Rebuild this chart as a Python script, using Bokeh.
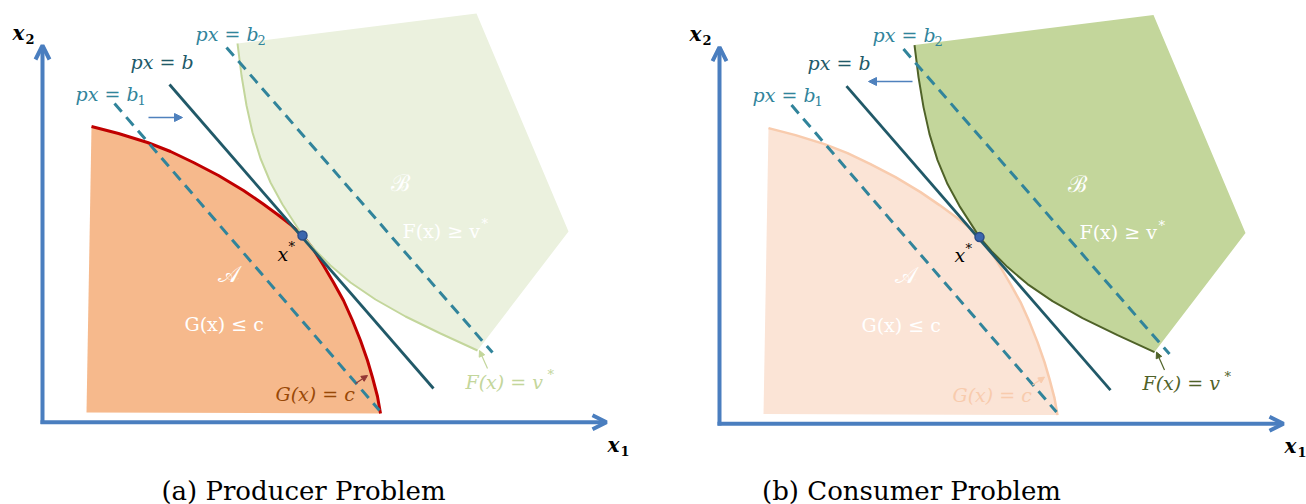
from bokeh.plotting import figure
from bokeh.models import Range1d, Arrow, OpenHead, NormalHead, ColumnDataSource
from bokeh.core.properties import value
from bokeh.embed import file_html
from bokeh.resources import INLINE

# ---- diagram data (coordinates (a) of the picture, image pixels, y down) ----
# Region A (G(x) <= c): left bottom corner, then the boundary curve G(x) = c
region_a_x = [86, 91, 118, 147, 170, 193, 218, 243, 262, 277, 290, 302, 313, 323, 333, 343, 352, 360, 367, 372, 377, 380]
region_a_y = [412, 126, 133, 142, 151, 162, 175, 190, 203, 214, 224, 235, 249, 265, 282, 300, 320, 340, 360, 377, 396, 413]
# Region B (F(x) >= v*): boundary curve F(x) = v*, then the two outer corners
region_b_x = [237, 241, 246, 252, 260, 270, 282, 293, 302, 314, 330, 350, 375, 405, 440, 477, 568, 476]
region_b_y = [43, 75, 105, 132, 158, 182, 204, 221, 235, 249, 265, 282, 299, 316, 333, 350, 231, 13]
curve_b_count = 16

# budget lines px = b, px = b1, px = b2
budget_x = [169, 433]
budget_y = [84, 388]
budget1_x = [114, 379]
budget1_y = [103, 410]
budget2_x = [226, 492]
budget2_y = [47, 352]

# optimum x*
xstar_x = [302]
xstar_y = [235]

# coordinate axes (start -> end)
axis_x0 = [42, 40]
axis_y0 = [423.5, 421.7]
axis_x1 = [42, 606]
axis_y1 = [45, 421.7]

# small pointer arrows to the boundary labels
g_arrow = [355, 383, 367, 375]
f_arrow = [487, 368, 479, 350]
# shift arrows (panel a: to the right, panel b: to the left)
shift_a = [148, 117, 182, 117]
shift_b = [235, 79.4, 191, 79.4]

# texts
line_label_x = [195, 130, 75]
line_label_y = [33, 61, 93]
line_sub_text = ["2", "", "1"]
line_sub_x = [257, 0, 137]
line_sub_y = [39, 0, 99]

captions = ["(a) Producer Problem", "(b) Consumer Problem"]
caption_x = [303, 234]
caption_y = [490, 488.4]

PANEL_B_DX = 677
PANEL_B_DY = 1.6

W, H = 1306, 504
MATH = value("DejaVu Serif")

AXIS_BLUE = "#4A7EBF"
TEAL = "#31849B"
DARK_TEAL = "#215968"

p = figure(width=W, height=H, x_range=Range1d(0, W), y_range=Range1d(H, 0),
           output_backend="svg", toolbar_location=None, min_border=0,
           x_axis_location=None, y_axis_location=None)
p.grid.visible = False
p.outline_line_color = None
p.background_fill_color = "white"
p.border_fill_color = "white"


def sx(vals, dx):
    return [v + dx for v in vals]


def panel(dx, dy, style, shift, caption, cap_x, cap_y):
    X = lambda vals: sx(vals, dx)
    Y = lambda vals: sx(vals, dy)

    # regions
    p.patch(X(region_b_x), Y(region_b_y), fill_color=style["b_fill"], line_color=None)
    p.patch(X(region_a_x), Y(region_a_y), fill_color=style["a_fill"], line_color=None)
    p.line(X(region_a_x[1:]), Y(region_a_y[1:]), line_color=style["a_edge"], line_width=style["a_w"])
    p.line(X(region_b_x[:curve_b_count]), Y(region_b_y[:curve_b_count]), line_color=style["b_edge"], line_width=2)

    # budget lines
    p.line(X(budget1_x), Y(budget1_y), line_color=TEAL, line_width=3, line_dash="11 7")
    p.line(X(budget2_x), Y(budget2_y), line_color=TEAL, line_width=3, line_dash="11 7")
    p.line(X(budget_x), Y(budget_y), line_color=DARK_TEAL, line_width=2.8)

    # axes
    src = ColumnDataSource(dict(x0=X(axis_x0), y0=Y(axis_y0), x1=X(axis_x1), y1=Y(axis_y1)))
    p.add_layout(Arrow(source=src, x_start="x0", y_start="y0", x_end="x1", y_end="y1",
                       line_color=AXIS_BLUE, line_width=4,
                       end=OpenHead(size=14, line_color=AXIS_BLUE, line_width=4)))

    # shift arrow (given in panel-a coordinates)
    p.add_layout(Arrow(x_start=shift[0] + dx, y_start=shift[1] + dy, x_end=shift[2] + dx, y_end=shift[3] + dy,
                       line_color="#4F81BD", line_width=1.3,
                       end=NormalHead(size=8, fill_color="#4F81BD", line_color="#4F81BD")))
    # label pointer arrows
    p.add_layout(Arrow(x_start=g_arrow[0] + dx, y_start=g_arrow[1] + dy, x_end=g_arrow[2] + dx, y_end=g_arrow[3] + dy,
                       line_color=style["g_arrow"], line_width=1.2,
                       end=NormalHead(size=6, fill_color=style["g_arrow"], line_color=style["g_arrow"])))
    p.add_layout(Arrow(x_start=f_arrow[0] + dx, y_start=f_arrow[1] + dy, x_end=f_arrow[2] + dx, y_end=f_arrow[3] + dy,
                       line_color=style["f_col"], line_width=1.2,
                       end=NormalHead(size=6, fill_color=style["f_col"], line_color=style["f_col"])))

    # optimum
    p.scatter(X(xstar_x), Y(xstar_y), size=9, fill_color="#3A66AE", line_color="#2B4C86", line_width=1.5)

    # line labels
    p.text(X(line_label_x), Y(line_label_y), text=["px = b"] * 3,
           text_color=[TEAL, DARK_TEAL, TEAL], text_font=MATH, text_font_style="italic",
           text_font_size="19px", text_align="left", text_baseline="middle")
    p.text(X(line_sub_x), Y(line_sub_y), text=line_sub_text, text_color=TEAL, text_font=MATH,
           text_font_size="13px", text_align="left", text_baseline="middle")

    # axis labels
    p.text(X([12, 607]), Y([32, 444]), text=["x", "x"], text_color="black", text_font=MATH,
           text_font_style="bold italic", text_font_size="20px", text_align="left", text_baseline="middle")
    p.text(X([25, 620]), Y([38, 450]), text=["2", "1"], text_color="black", text_font=MATH,
           text_font_style="bold", text_font_size="13px", text_align="left", text_baseline="middle")

    # x*
    p.text(X([277]), Y([253]), text=["x"], text_color="black", text_font=MATH, text_font_style="italic",
           text_font_size="19px", text_align="left", text_baseline="middle")
    p.text(X([288]), Y([246]), text=["*"], text_color="black", text_font=MATH,
           text_font_size="13px", text_align="left", text_baseline="middle")

    # region labels
    p.text(X([228, 400]), Y([273, 182]), text=["\U0001D49C", "\u212C"], text_color="white", text_font=MATH,
           text_font_size="23px", text_align="center", text_baseline="middle")
    p.text(X([184]), Y([323]), text=["G(x) ≤ c"], text_color="white", text_font=MATH,
           text_font_size="19px", text_align="left", text_baseline="middle")
    p.text(X([402]), Y([230]), text=["F(x) ≥ v"], text_color="white", text_font=MATH,
           text_font_size="19px", text_align="left", text_baseline="middle")
    p.text(X([481]), Y([223]), text=["*"], text_color="white", text_font=MATH,
           text_font_size="13px", text_align="left", text_baseline="middle")
    p.text(X([275]), Y([393]), text=["G(x) = c"], text_color=style["g_col"], text_font=MATH,
           text_font_style="italic", text_font_size="19px", text_align="left", text_baseline="middle")
    p.text(X([465]), Y([381]), text=["F(x) = v"], text_color=style["f_col"], text_font=MATH,
           text_font_style="italic", text_font_size="19px", text_align="left", text_baseline="middle")
    p.text(X([547]), Y([374]), text=["*"], text_color=style["f_col"], text_font=MATH,
           text_font_size="13px", text_align="left", text_baseline="middle")

    # caption (given in panel coordinates)
    p.text([cap_x + dx], [cap_y + dy], text=[caption], text_color="black", text_font=value("DejaVu Serif"),
           text_font_size="26px", text_align="center", text_baseline="middle")


style_a = dict(b_fill="#EBF1DE", b_edge="#C3D69B", a_fill="#F6B98C", a_edge="#C00000", a_w=3,
               g_col="#984807", g_arrow="#953735", f_col="#C3D69B")
style_b = dict(b_fill="#C3D69B", b_edge="#4F6228", a_fill="#FBE4D6", a_edge="#F8CBAD", a_w=2.5,
               g_col="#F8CBAD", g_arrow="#F8CBAD", f_col="#4F6228")

panel(0, 0, style_a, shift_a, captions[0], caption_x[0], caption_y[0])
panel(PANEL_B_DX, PANEL_B_DY, style_b, shift_b, captions[1], caption_x[1], caption_y[1])

open("out.html", "w").write(file_html(p, INLINE))
